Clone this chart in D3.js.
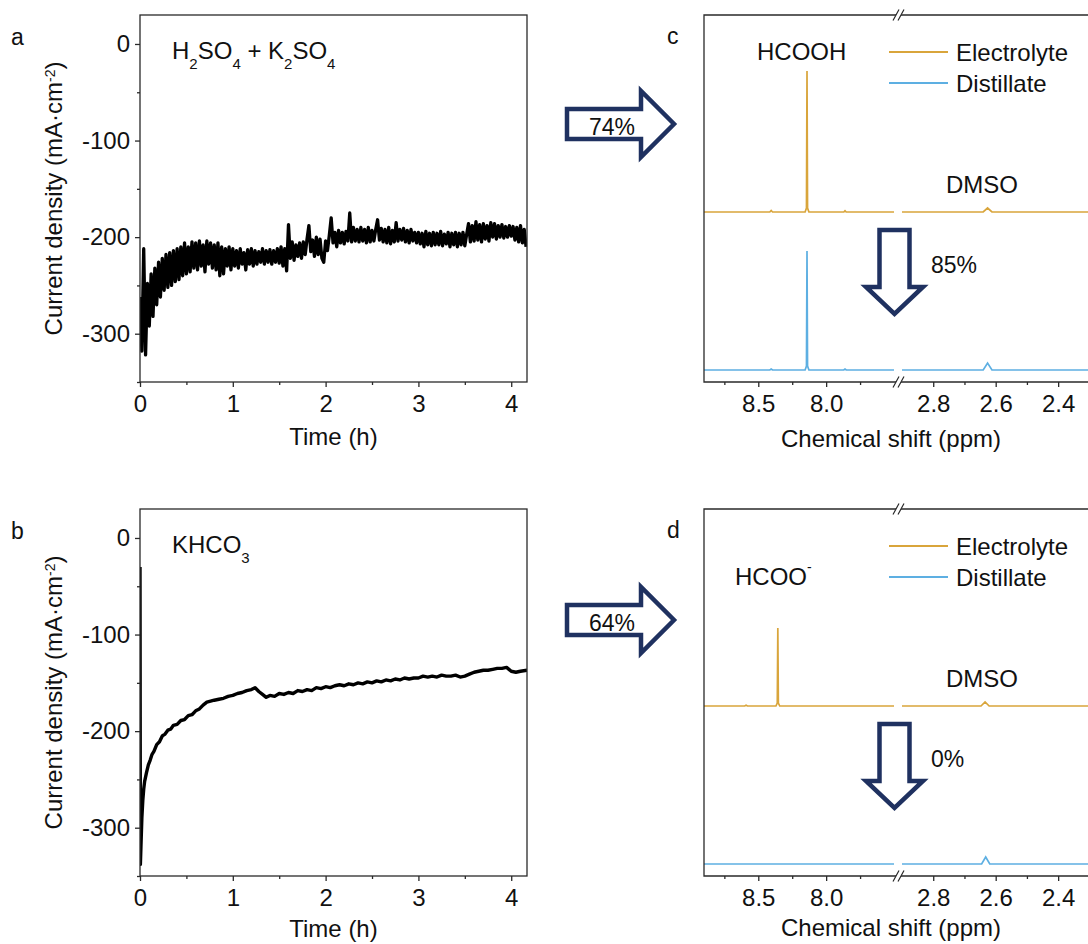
<!DOCTYPE html>
<html>
<head>
<meta charset="utf-8">
<script src="https://cdn.jsdelivr.net/npm/d3@7"></script>
<style>
  body { margin: 0; background: #fff; overflow: hidden; }
  svg text { font-family: "Liberation Sans", Arial, sans-serif; fill: #111; }
</style>
</head>
<body>
<svg id="fig" width="1088" height="944"></svg>
<script>
// ---- chronoamperometry (a: H2SO4 + K2SO4, b: KHCO3), current density in mA cm-2
const stepA = 0.02; // h between samples of currentA
const currentA = [
  -262,-318,-212,-322,-248,-292,-238,-282,-232,-270,
  -226,-262,-222,-255,-218,-252,-216,-250,-214,-246,
  -212,-244,-210,-240,-206,-238,-210,-236,-205,-232,
  -206,-234,-204,-230,-208,-236,-204,-228,-206,-232,
  -208,-234,-206,-240,-210,-238,-212,-230,-210,-234,
  -212,-230,-214,-232,-212,-228,-216,-234,-213,-228,
  -212,-230,-214,-228,-215,-226,-212,-228,-214,-226,
  -213,-228,-214,-226,-212,-227,-210,-230,-212,-235,
  -187,-222,-205,-224,-208,-220,-206,-222,-205,-218,
  -202,-188,-215,-203,-220,-200,-218,-202,-222,-226,
  -204,-214,-198,-180,-206,-195,-210,-193,-206,-195,
  -207,-194,-204,-175,-205,-190,-204,-192,-205,-190,
  -204,-192,-206,-190,-205,-193,-204,-192,-182,-203,
  -191,-205,-192,-206,-190,-207,-193,-205,-185,-204,
  -192,-203,-191,-205,-193,-206,-192,-204,-195,-206,
  -195,-207,-196,-210,-194,-208,-196,-209,-195,-208,
  -196,-208,-194,-209,-197,-207,-195,-210,-196,-208,
  -195,-210,-196,-208,-195,-209,-197,-186,-205,-188,
  -204,-184,-203,-187,-205,-186,-202,-188,-204,-185,
  -200,-186,-202,-188,-200,-187,-201,-189,-200,-188,
  -199,-189,-203,-190,-205,-188,-206,-192,-210
];
const timeB = [
  0,0.004,0.01,0.02,0.03,0.04,0.05,0.07,0.09,0.11,0.13,0.15,0.18,0.21,0.24,0.27,0.30,0.33,0.36,
  0.40,0.44,0.48,0.52,0.56,0.60,0.64,0.68,0.72,0.76,0.80,0.85,0.90,0.95,1.00,1.05,1.10,1.15,1.20,
  1.24,1.28,1.32,1.36,1.40,1.45,1.50,1.55,1.60,1.65,1.70,1.75,1.80,1.85,1.90,1.95,2.00,2.05,2.10,
  2.15,2.20,2.25,2.30,2.35,2.40,2.45,2.50,2.55,2.60,2.65,2.70,2.75,2.80,2.85,2.90,2.95,3.00,3.05,
  3.10,3.15,3.20,3.25,3.30,3.35,3.40,3.45,3.50,3.55,3.60,3.65,3.70,3.75,3.80,3.85,3.90,3.95,4.00,
  4.05,4.10,4.17
];
const currentB = [
  -30,-338,-320,-290,-272,-260,-252,-243,-235,-230,-224,-221,-214,-211,-205,-203,-199,-198,-194,
  -193,-189,-188,-184,-183,-179,-177,-173,-170,-169,-168,-167,-166,-164,-163,-161,-160,-158,-157,
  -155,-159,-162,-165,-163,-164,-161,-162,-160,-161,-158,-159,-157,-158,-155,-156,-154,-155,-153,
  -152,-153,-151,-152,-150,-151,-149,-150,-148,-149,-147,-148,-146,-147,-145,-146,-145,-145,-143,
  -144,-143,-144,-142,-143,-143,-142,-144,-143,-141,-139,-138,-137,-137,-136,-135,-135,-134,-138,
  -139,-138,-137
];
const timeTicks = [0, 1, 2, 3, 4];
const timeMinor = [0.5, 1.5, 2.5, 3.5];
const currentTicks = [0, -100, -200, -300];
const currentMinor = [-50, -150, -250, -350];

// ---- 1H NMR, [ppm, intensity]; low = 8.9-7.5 ppm, high = 2.9-2.25 ppm
const elecCLow = [[8.9,0],[8.415,0],[8.405,1.5],[8.395,0],[8.155,0],[8.145,4],[8.141,141],[8.137,4],[8.127,0],[7.87,0],[7.861,1.2],[7.852,0],[7.5,0]];
const elecCHigh = [[2.9,0],[2.64,0],[2.626,4],[2.612,0],[2.25,0]];
const distCLow = [[8.9,0],[8.415,0],[8.405,1],[8.395,0],[8.155,0],[8.145,4],[8.141,119],[8.137,4],[8.127,0],[7.87,0],[7.861,1],[7.852,0],[7.5,0]];
const distCHigh = [[2.9,0],[2.64,0],[2.626,7],[2.612,0],[2.25,0]];
const elecDLow = [[8.9,0],[8.6,0],[8.59,0.8],[8.58,0],[8.37,0],[8.36,3],[8.356,78],[8.352,3],[8.342,0],[7.5,0]];
const elecDHigh = [[2.9,0],[2.647,0],[2.634,4],[2.621,0],[2.25,0]];
const distDLow = [[8.9,0],[7.5,0]];
const distDHigh = [[2.9,0],[2.645,0],[2.632,7],[2.619,0],[2.25,0]];
const ppmTicksLow = [8.5, 8.0];
const ppmMinorLow = [8.75, 8.25, 7.75];
const ppmTicksHigh = [2.8, 2.6, 2.4];
const ppmMinorHigh = [2.7, 2.5];
const elecOffset = 158;
const seriesNames = ['Electrolyte', 'Distillate'];

const svg = d3.select('#fig');
const ink = '#2a2a2a';
const navy = '#1f3160';
const gold = '#d9a53b';
const sky = '#5dafe2';

function styleAxis(g, size) {
  g.attr('font-family', null).attr('font-size', null);
  g.select('.domain').remove();
  g.selectAll('line').attr('stroke', ink).attr('stroke-width', 1.3);
  g.selectAll('text').style('font-size', (size || 24) + 'px');
}

// text with sub/superscripts, parts = [text, size, baseline shift]
function rich(g, x, y, parts, size) {
  const t = g.append('text').attr('x', x).attr('y', y).style('font-size', size + 'px');
  let shift = 0;
  parts.forEach(([s, sz, sh]) => {
    const want = sh || 0;
    t.append('tspan').attr('dy', want - shift).style('font-size', (sz || size) + 'px').text(s);
    shift = want;
  });
  return t;
}

function drawTimePanel(top, letter, times, values, lineW, labelParts, titleGap) {
  const x = d3.scaleLinear().domain([0, 4.17]).range([140, 527]);
  const y = d3.scaleLinear().domain([-350, 30]).range([top + 367, top]);
  const [x0, x1] = x.range(), [y1, y0] = y.range();
  const g = svg.append('g');

  svg.append('clipPath').attr('id', 'clip-' + letter)
    .append('rect').attr('x', x0).attr('y', y0).attr('width', x1 - x0).attr('height', y1 - y0);

  g.append('path').datum(d3.zip(times, values))
    .attr('clip-path', `url(#clip-${letter})`)
    .attr('fill', 'none').attr('stroke', '#000').attr('stroke-width', lineW)
    .attr('stroke-linejoin', 'round')
    .attr('d', d3.line().x(d => x(d[0])).y(d => y(d[1])));

  g.append('rect').attr('x', x0).attr('y', y0).attr('width', x1 - x0).attr('height', y1 - y0)
    .attr('fill', 'none').attr('stroke', ink).attr('stroke-width', 1.3);

  styleAxis(g.append('g').attr('transform', `translate(0,${y1})`)
    .call(d3.axisBottom(x).tickValues(timeTicks).tickSize(5).tickPadding(8).tickFormat(d => String(d))));
  styleAxis(g.append('g').attr('transform', `translate(0,${y1})`)
    .call(d3.axisBottom(x).tickValues(timeMinor).tickSize(3).tickFormat('')));
  styleAxis(g.append('g').attr('transform', `translate(${x0},0)`)
    .call(d3.axisLeft(y).tickValues(currentTicks).tickSize(5).tickPadding(5).tickFormat(d => String(d))));
  styleAxis(g.append('g').attr('transform', `translate(${x0},0)`)
    .call(d3.axisLeft(y).tickValues(currentMinor).tickSize(3).tickFormat('')));

  g.append('text').attr('x', 11).attr('y', y0 + 30).style('font-size', '23px').text(letter);
  rich(g, 172, y0 + 44, labelParts, 24);

  g.append('text').attr('x', (x0 + x1) / 2).attr('y', y1 + titleGap)
    .attr('text-anchor', 'middle').style('font-size', '24px').text('Time (h)');

  const cy = (y0 + y1) / 2;
  rich(g, 62, cy, [['Current density (mA·cm'], ['-2', 14, -7], [')']], 24)
    .attr('text-anchor', 'middle').attr('transform', `rotate(-90,62,${cy})`);
}

function drawNmrPanel(top, letter, elecLow, elecHigh, distLow, distHigh, peakParts, peakX, titleGap) {
  const xL = d3.scaleLinear().domain([8.9, 7.5]).range([704, 894]);
  const xR = d3.scaleLinear().domain([2.9, 2.25]).range([902, 1105]);
  const y = d3.scaleLinear().domain([-12, 355]).range([top + 367, top]);
  const [y1, y0] = y.range();
  const xEnd = xR.range()[1];
  const g = svg.append('g');

  const spectra = [[elecLow, elecHigh, elecOffset, gold], [distLow, distHigh, 0, sky]];
  spectra.forEach(([low, high, off, col]) => {
    g.append('path').datum(low).attr('fill', 'none').attr('stroke', col).attr('stroke-width', 1.7)
      .attr('d', d3.line().x(d => xL(d[0])).y(d => y(d[1] + off)));
    g.append('path').datum(high).attr('fill', 'none').attr('stroke', col).attr('stroke-width', 1.7)
      .attr('d', d3.line().x(d => xR(d[0])).y(d => y(d[1] + off)));
  });

  g.append('path').attr('fill', 'none').attr('stroke', ink).attr('stroke-width', 1.3)
    .attr('d', `M${xEnd},${y0}H${xL.range()[0]}V${y1}H${xEnd}`);

  [[xL, ppmTicksLow, ppmMinorLow], [xR, ppmTicksHigh, ppmMinorHigh]].forEach(([sc, major, minor]) => {
    styleAxis(g.append('g').attr('transform', `translate(0,${y1})`)
      .call(d3.axisBottom(sc).tickValues(major).tickSize(5).tickPadding(8).tickFormat(d3.format('.1f'))));
    styleAxis(g.append('g').attr('transform', `translate(0,${y1})`)
      .call(d3.axisBottom(sc).tickValues(minor).tickSize(3).tickFormat('')));
  });

  // axis break marks
  const bx = (xL.range()[1] + xR.range()[0]) / 2 + 1;
  [y0, y1].forEach(yy => {
    g.append('path').attr('fill', '#fff').attr('stroke', 'none')
      .attr('d', `M${bx - 6},${yy + 5.5}L${bx - 1},${yy + 5.5}L${bx + 5},${yy - 5.5}L${bx},${yy - 5.5}Z`);
    g.append('path').attr('fill', 'none').attr('stroke', ink).attr('stroke-width', 1.2)
      .attr('d', `M${bx - 6},${yy + 5.5}L${bx},${yy - 5.5}M${bx - 1},${yy + 5.5}L${bx + 5},${yy - 5.5}`);
  });

  g.append('text').attr('x', 667).attr('y', y0 + 29).style('font-size', '23px').text(letter);
  g.append('text').attr('x', 891).attr('y', y1 + titleGap).attr('text-anchor', 'middle')
    .style('font-size', '24px').text('Chemical shift (ppm)');

  rich(g, peakX, peakParts.y, peakParts.parts, 24);
  g.append('text').attr('x', 946).attr('y', y(elecOffset) - 19).style('font-size', '24px').text('DMSO');

  // legend
  const legY = [y0 + 37, y0 + 68];
  seriesNames.forEach((name, i) => {
    g.append('line').attr('x1', 889).attr('x2', 948).attr('y1', legY[i]).attr('y2', legY[i])
      .attr('stroke', [gold, sky][i]).attr('stroke-width', 1.8);
    g.append('text').attr('x', 956).attr('y', legY[i] + 8.5).style('font-size', '24px').text(name);
  });
}

function rightArrow(cy, label) {
  svg.append('path').attr('fill', '#fff').attr('stroke', navy).attr('stroke-width', 4.5)
    .attr('d', `M567,${cy - 15}H641V${cy - 33}L674,${cy}L641,${cy + 33}V${cy + 15}H567Z`);
  svg.append('text').attr('x', 612).attr('y', cy + 11).attr('text-anchor', 'middle')
    .style('font-size', '23px').text(label);
}

function downArrow(topY, label) {
  const cx = 894.5;
  svg.append('path').attr('fill', '#fff').attr('stroke', navy).attr('stroke-width', 4.5)
    .attr('d', `M${cx - 15},${topY}H${cx + 15}V${topY + 57}H${cx + 28.5}L${cx},${topY + 84}L${cx - 28.5},${topY + 57}H${cx - 15}Z`);
  svg.append('text').attr('x', 931).attr('y', topY + 43).style('font-size', '23px').text(label);
}

drawTimePanel(15, 'a', d3.range(currentA.length).map(i => i * stepA), currentA, 3.3,
  [['H'], ['2', 15, 9.5], ['SO'], ['4', 15, 9.5], [' + K'], ['2', 15, 9.5], ['SO'], ['4', 15, 9.5]], 63);
drawTimePanel(509, 'b', timeB, currentB, 3.4, [['KHCO'], ['3', 15, 9.5]], 61);

drawNmrPanel(15, 'c', elecCLow, elecCHigh, distCLow, distCHigh, { y: 60, parts: [['HCOOH']] }, 757, 65);
drawNmrPanel(509, 'd', elecDLow, elecDHigh, distDLow, distDHigh, { y: 585, parts: [['HCOO'], ['-', 14, -13]] }, 735, 60);

rightArrow(124, '74%');
rightArrow(620, '64%');
downArrow(230, '85%');
downArrow(724, '0%');
</script>
</body>
</html>
